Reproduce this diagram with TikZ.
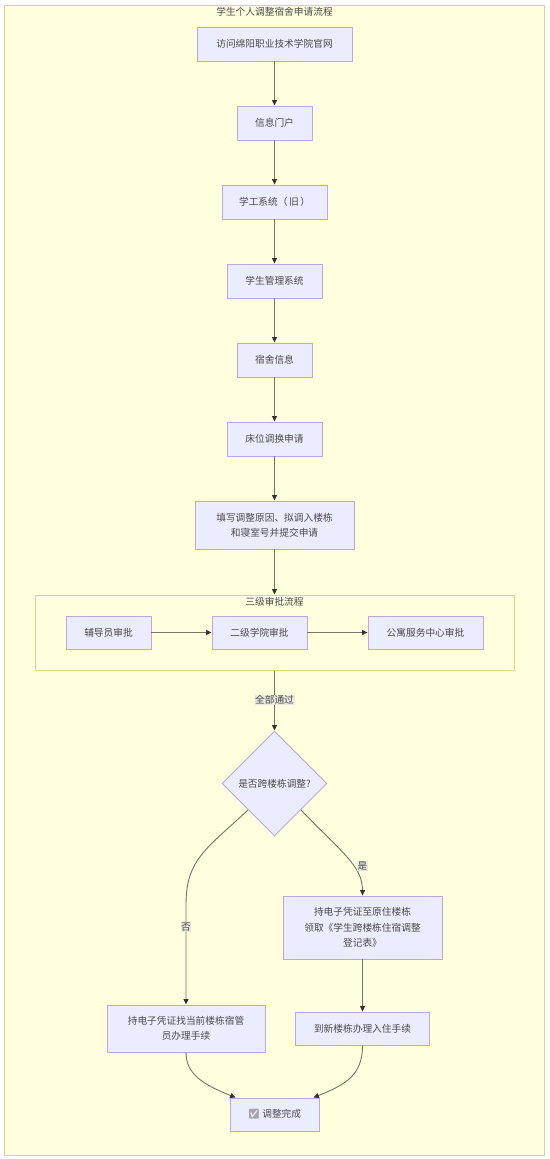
\documentclass[tikz,border=0pt]{standalone}
\usepackage{fontspec}
\setmainfont{Noto Sans CJK SC}
\newfontfamily\emojifont{Noto Emoji}
\usetikzlibrary{arrows.meta,shapes.geometric}
\definecolor{nodefill}{HTML}{ECECFF}
\definecolor{nodeline}{HTML}{B9A9DE}
\definecolor{clusterfill}{HTML}{FFFFDE}
\definecolor{clusterline}{HTML}{D6D68E}
\definecolor{inktext}{HTML}{4A4A4A}
\definecolor{edgeline}{HTML}{74746A}
\definecolor{tipcolor}{HTML}{333333}
\definecolor{labelfill}{HTML}{E8E8E0}
\tikzset{
  flowbox/.style={draw=nodeline,fill=nodefill,line width=0.9pt,text=inktext,align=center,inner sep=0pt,
    minimum height=34pt,font=\fontsize{9.7pt}{15.3pt}\selectfont},
  decisionbox/.style={flowbox,diamond,aspect=1,minimum width=105pt,minimum height=105pt},
  clusterbox/.style={draw=clusterline,fill=clusterfill,line width=1pt,inner sep=0pt},
  clustertitle/.style={text=inktext,inner sep=0pt,font=\fontsize{9.7pt}{12pt}\selectfont},
  flowedge/.style={draw=edgeline,line width=0.9pt,-{Triangle[length=5.5pt,width=5pt,color=tipcolor]}},
  edgetag/.style={fill=labelfill,text=inktext,inner sep=0.6pt,font=\fontsize{9.7pt}{12pt}\selectfont},
}
\begin{document}
\begin{tikzpicture}[x=1pt,y=-1pt]
\useasboundingbox (0,0) rectangle (549,1159);
\node[clusterbox,minimum width=540pt,minimum height=1150pt] (outer) at (274,580) {};
\node[clustertitle] (outertitle) at (274.5,12) {学生个人调整宿舍申请流程};
\node[clusterbox,minimum width=479pt,minimum height=75pt] (inner) at (274.5,632.5) {};
\node[clustertitle] (innertitle) at (274.5,601.5) {三级审批流程};

\node[flowbox,minimum width=155pt] (n1) at (274.5,44) {访问绵阳职业技术学院官网};
\node[flowbox,minimum width=75pt] (n2) at (274.5,123) {信息门户};
\node[flowbox,minimum width=105pt] (n3) at (274.5,202) {学工系统（\kern1.5pt 旧\kern1.5pt ）};
\node[flowbox,minimum width=95pt] (n4) at (274.5,281) {学生管理系统};
\node[flowbox,minimum width=75pt] (n5) at (274.5,360) {宿舍信息};
\node[flowbox,minimum width=95pt] (n6) at (274.5,439) {床位调换申请};
\node[flowbox,minimum width=159pt,minimum height=48pt] (n7) at (274.5,525) {填写调整原因、拟调入楼栋\\和寝室号并提交申请};
\node[flowbox,minimum width=85pt,minimum height=33pt] (a) at (108.5,632.5) {辅导员审批};
\node[flowbox,minimum width=95pt,minimum height=33pt] (b) at (259.5,632.5) {二级学院审批};
\node[flowbox,minimum width=115pt,minimum height=33pt] (c) at (425.5,632.5) {公寓服务中心审批};
\node[decisionbox] (dec) at (274.5,783.5) {是否跨楼栋调整?};
\node[flowbox,minimum width=159pt,minimum height=63pt] (yes) at (362.5,927.5) {持电子凭证至原住楼栋\\领取《学生跨楼栋住宿调整\\登记表》};
\node[flowbox,minimum width=134pt,minimum height=33pt] (new) at (362.5,1028.5) {到新楼栋办理入住手续};
\node[flowbox,minimum width=158pt,minimum height=47pt] (no) at (186,1028.5) {持电子凭证找当前楼栋宿管\\员办理手续};
\node[flowbox,minimum width=89pt,minimum height=33pt] (done) at (274.5,1114.5) {{\emojifont\color{gray!70}✅} 调整完成};
\coordinate (doneL) at ([xshift=6pt]done.north west);
\coordinate (doneR) at ([xshift=-6pt]done.north east);
\coordinate (noBend) at (186,905);

\draw[flowedge] (n1) -- (n2);
\draw[flowedge] (n2) -- (n3);
\draw[flowedge] (n3) -- (n4);
\draw[flowedge] (n4) -- (n5);
\draw[flowedge] (n5) -- (n6);
\draw[flowedge] (n6) -- (n7);
\draw[flowedge] (n7) -- (inner);
\draw[flowedge] (a) -- (b);
\draw[flowedge] (b) -- (c);
\draw[flowedge] (inner) -- node[edgetag,pos=0.49] {全部通过} (dec);
\draw[flowedge] (dec.south west) .. controls +(-43,40) and +(0,-45) .. (noBend) -- node[edgetag,pos=0.22] {否} (no.north);
\draw[flowedge] (dec.south east) .. controls +(40,42) and +(0,-30) .. (yes.north);
\node[edgetag] (yestag) at (362.5,866) {是};
\draw[flowedge] (yes) -- (new);
\draw[flowedge] (no.south) .. controls +(0,22) and +(-32,-13) .. (doneL);
\draw[flowedge] (new.south) .. controls +(0,30) and +(32,-13) .. (doneR);
\end{tikzpicture}
\end{document}
